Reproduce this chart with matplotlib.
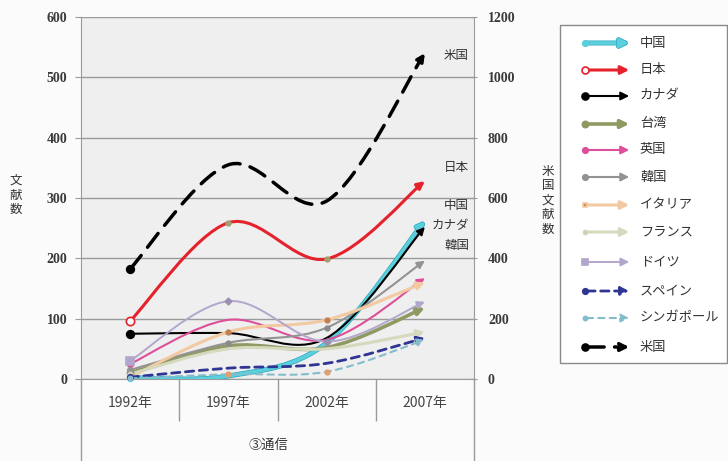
import numpy as np
import matplotlib
matplotlib.use('Agg')
import matplotlib.pyplot as plt
import matplotlib.patheffects as pe
from matplotlib.path import Path
from matplotlib.patches import FancyArrowPatch, Rectangle
from matplotlib.lines import Line2D

plt.rcParams['font.family'] = ['Noto Sans CJK JP', 'DejaVu Sans']

years = ['1992年', '1997年', '2002年', '2007年']

# 左軸の国
china = [2, 5, 60, 262]
japan = [96, 259, 199, 328]
canada = [75, 76, 68, 252]
taiwan = [10, 55, 52, 118]
uk = [25, 98, 65, 167]
korea = [15, 60, 85, 196]
italy = [3, 78, 98, 160]
france = [8, 50, 50, 78]
germany = [30, 129, 62, 128]
spain = [3, 18, 26, 68]
singapore = [1, 8, 12, 65]
# 右軸
usa = [365, 710, 590, 1080]

names = ['中国', '日本', 'カナダ', '台湾', '英国', '韓国', 'イタリア', 'フランス',
         'ドイツ', 'スペイン', 'シンガポール', '米国']

# name: (color, lw, linestyle, start marker, marker size, marker face)
styles = {
    '中国': ('#5ccfdc', 2.6, '-', 'o', 4, '#5ccfdc'),
    '日本': ('#e5212b', 2.2, '-', 'o', 6, 'white'),
    'カナダ': ('black', 1.5, '-', 'o', 5.5, 'black'),
    '台湾': ('#8f9a62', 2.6, '-', 'o', 4.5, '#8f9a62'),
    '英国': ('#dd4f9a', 1.5, '-', 'o', 4, '#dd4f9a'),
    '韓国': ('#939393', 1.5, '-', 'o', 4, '#939393'),
    'イタリア': ('#f3c9a2', 2.2, '-', 's', 3, '#d89050'),
    'フランス': ('#d5d9bd', 2.2, '-', 'o', 3, '#c8cca8'),
    'ドイツ': ('#b3a6cc', 1.4, '-', 's', 6, '#b3a6cc'),
    'スペイン': ('#2f3593', 2.0, (0, (3, 2)), 'o', 4, '#2f3593'),
    'シンガポール': ('#85bccb', 1.5, (0, (3, 2.5)), 'o', 3, '#85bccb'),
    '米国': ('black', 2.5, (0, (5, 3)), 'o', 5.5, 'black'),
}

data = {'中国': china, '日本': japan, 'カナダ': canada, '台湾': taiwan, '英国': uk,
        '韓国': korea, 'イタリア': italy, 'フランス': france, 'ドイツ': germany,
        'スペイン': spain, 'シンガポール': singapore, '米国': usa}


def smooth_path(xs, ys):
    pts = list(zip(xs, ys))
    n = len(pts)
    verts = [pts[0]]
    codes = [Path.MOVETO]
    for i in range(n - 1):
        p0 = pts[max(i - 1, 0)]
        p1 = pts[i]
        p2 = pts[i + 1]
        p3 = pts[min(i + 2, n - 1)]
        c1 = (p1[0] + (p2[0] - p0[0]) / 6, p1[1] + (p2[1] - p0[1]) / 6)
        c2 = (p2[0] - (p3[0] - p1[0]) / 6, p2[1] - (p3[1] - p1[1]) / 6)
        verts += [c1, c2, p2]
        codes += [Path.CURVE4] * 3
    return Path(verts, codes)


W, H = 728, 461
fig = plt.figure(figsize=(W / 100, H / 100), dpi=100)
fig.patch.set_facecolor('#fbfbfb')


def fx(x):
    return x / W


def fy(y):
    return 1 - y / H


ax = fig.add_axes([fx(81), fy(379), fx(474) - fx(81), fy(17) - fy(379)])
ax.set_facecolor('#efefef')
ax.set_xlim(0, 4)
ax.set_ylim(0, 600)
ax.set_yticks(range(0, 601, 100))
ax.yaxis.grid(True, color='#9a9a9a', lw=1)
ax.set_axisbelow(True)
for s in ['top', 'right']:
    ax.spines[s].set_visible(False)
ax.spines['left'].set_color('#9a9a9a')
ax.spines['bottom'].set_color('#9a9a9a')

ax.set_xticks([0.5, 1.5, 2.5, 3.5])
ax.set_xticklabels(years, fontsize=10, color='#444444')
ax.tick_params(axis='x', which='major', length=0, pad=12)
ax.set_xticks([1, 2, 3], minor=True)
ax.tick_params(axis='x', which='minor', length=30, color='#9a9a9a', width=1)
ax.tick_params(axis='y', length=4, color='#9a9a9a', pad=6)
for lab in ax.get_yticklabels():
    lab.set_fontfamily('Liberation Serif')
    lab.set_fontweight('bold')
    lab.set_fontsize(10)
    lab.set_color('#3a3a3a')

ax2 = ax.twinx()
ax2.set_ylim(0, 1200)
ax2.set_yticks(range(0, 1201, 200))
for s in ['top', 'left', 'bottom']:
    ax2.spines[s].set_visible(False)
ax2.spines['right'].set_color('#9a9a9a')
ax2.tick_params(axis='y', length=4, direction='inout', color='#9a9a9a', pad=8)
for lab in ax2.get_yticklabels():
    lab.set_fontfamily('Liberation Serif')
    lab.set_fontweight('bold')
    lab.set_fontsize(10)
    lab.set_color('#3a3a3a')

china_fx = [pe.Stroke(linewidth=3.6, foreground='#2aa8c0'), pe.Normal()]

xs = [0.5, 1.5, 2.5, 3.5]
for name in names:
    color, lw, ls, mk, ms, mfc = styles[name]
    target = ax2 if name == '米国' else ax
    vals = data[name]
    p = FancyArrowPatch(path=smooth_path(xs, vals), arrowstyle='-|>',
                        mutation_scale=11, color=color, lw=lw, linestyle=ls,
                        zorder=3)
    if name == '中国':
        p.set_path_effects(china_fx)
    target.add_patch(p)
    target.plot(xs[0], vals[0], marker=mk, ms=ms, mfc=mfc, mec=color,
                mew=1.2, zorder=4, clip_on=False)
    if name in ('日本', '韓国', 'ドイツ', 'イタリア', 'シンガポール'):
        mcol = {'日本': '#a0a070', '韓国': '#8a8a8a', 'ドイツ': '#9a8fb0',
                'イタリア': '#c08050', 'シンガポール': '#e0a070'}[name]
        target.plot(xs[1:3], vals[1:3], ls='none', marker='D' if name == 'ドイツ' else 'o',
                    ms=3.5, color=mcol, zorder=4)

# 線端のラベル
for txt, y in [('米国', 55), ('日本', 168), ('中国', 205), ('カナダ', 226), ('韓国', 245)]:
    fig.text(fx(469), fy(y), txt, ha='right', va='center', fontsize=9, color='#333333')

# 軸タイトル
fig.text(fx(16), fy(195), '文\n献\n数', ha='center', va='center', fontsize=9,
         linespacing=1.15, color='#333333')
fig.text(fx(548), fy(200), '米\n国\n文\n献\n数', ha='center', va='center', fontsize=9,
         linespacing=1.15, color='#333333')
fig.text(fx(268), fy(445), '③通信', ha='center', va='center', fontsize=9.5, color='#333333')

# 枠線の下への延長
for x in (81, 474):
    fig.add_artist(Line2D([fx(x), fx(x)], [0, fy(379)], color='#9a9a9a', lw=1))

# 凡例
fig.add_artist(Rectangle((fx(560), fy(363)), fx(727) - fx(560), fy(25) - fy(363),
                         facecolor='white', edgecolor='#8a8a8a', lw=1))
leg_y = [43, 70, 96, 124, 150, 177, 205, 232, 262, 291, 318, 347]
for name, y in zip(names, leg_y):
    color, lw, ls, mk, ms, mfc = styles[name]
    a = FancyArrowPatch((fx(584), fy(y)), (fx(632), fy(y)), transform=fig.transFigure,
                        arrowstyle='-|>', mutation_scale=12, color=color, lw=lw,
                        linestyle=ls)
    if name == '中国':
        a.set_path_effects(china_fx)
    fig.add_artist(a)
    fig.add_artist(Line2D([fx(585)], [fy(y)], marker=mk, ms=min(ms, 5), mfc=mfc,
                          mec=color, mew=1.2))
    fig.text(fx(640), fy(y), name, ha='left', va='center', fontsize=9.5, color='#333333')

fig.savefig('out.png', dpi=100, facecolor=fig.get_facecolor())
